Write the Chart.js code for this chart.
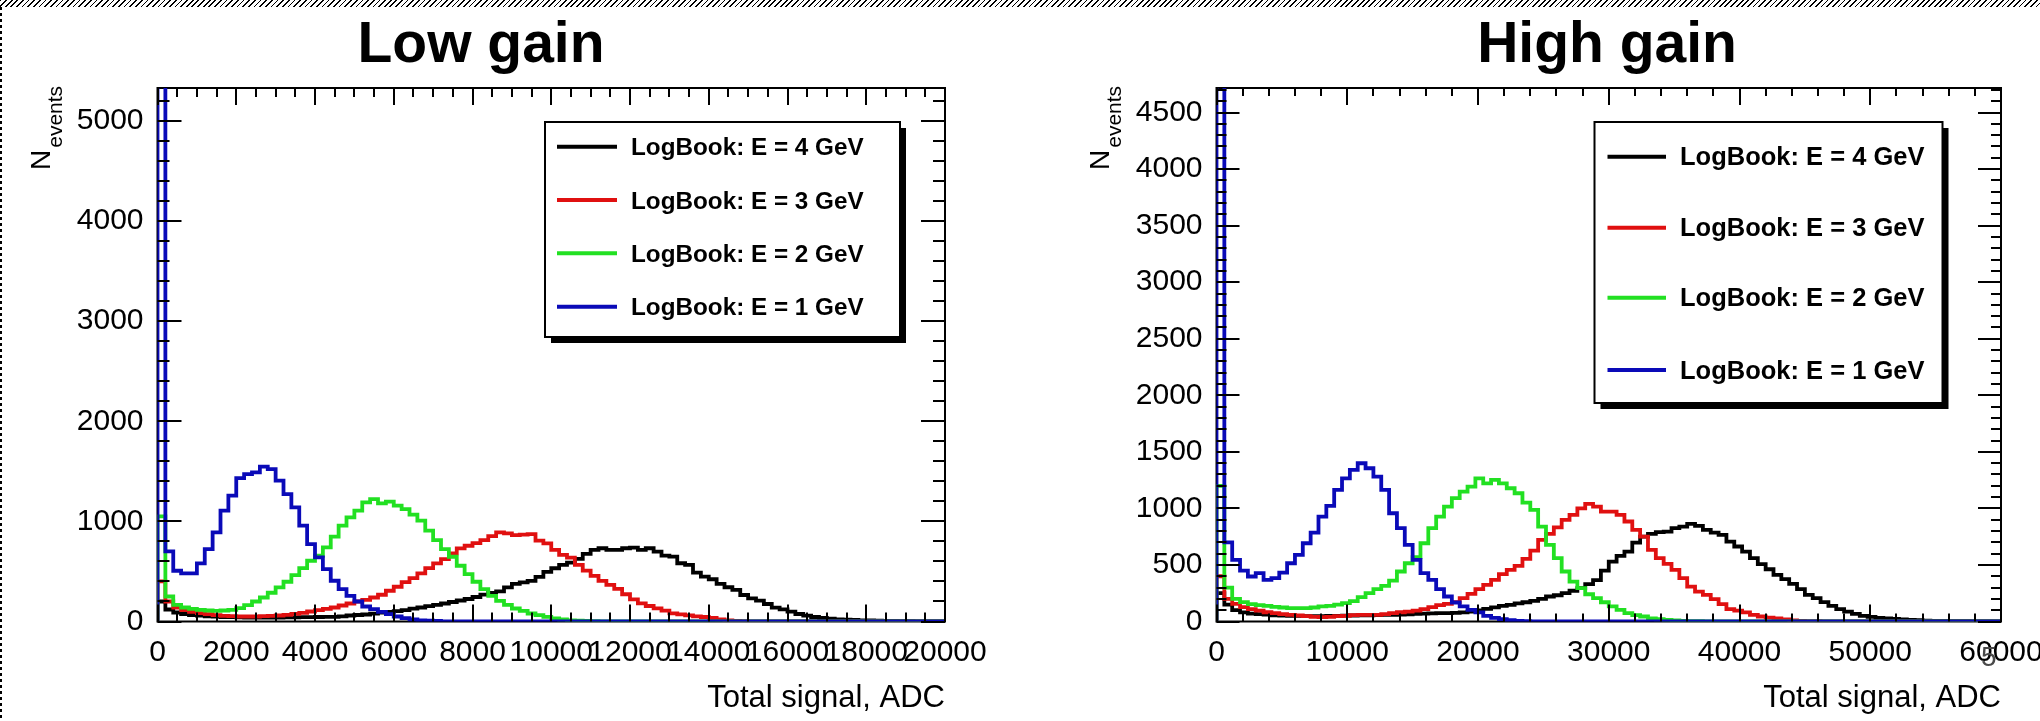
<!DOCTYPE html>
<html><head><meta charset="utf-8">
<script src="https://cdn.jsdelivr.net/npm/chart.js@4.4.1/dist/chart.umd.min.js"></script>
<style>
html,body{margin:0;padding:0;background:#fff;overflow:hidden;width:2040px;height:721px;}
#wrap{position:relative;width:2040px;height:721px;overflow:hidden;background:#fff;}
#c1{position:absolute;left:0;top:0;}
#c2{position:absolute;left:1020px;top:0;}
#hatch{position:absolute;left:0;top:0;width:2040px;height:7px;background:repeating-linear-gradient(135deg,#000 0 1.2px,#fff 1.2px 4px);z-index:5;}
#dash{position:absolute;left:0;top:7px;width:2px;height:714px;background:repeating-linear-gradient(180deg,#000 0 3px,#fff 3px 6px);z-index:5;}
#pg{position:absolute;left:1981px;top:641px;font:28px 'Liberation Sans',Arial,sans-serif;color:#4a4a4a;z-index:5;}
</style></head>
<body><div id="wrap">
<canvas id="c1" width="1020" height="721"></canvas>
<canvas id="c2" width="1100" height="721"></canvas>
<div id="hatch"></div><div id="dash"></div><div id="pg">5</div>
</div>
<script>
// ---------------- DATA ----------------
const seriesLabels = ['LogBook: E = 4 GeV','LogBook: E = 3 GeV','LogBook: E = 2 GeV','LogBook: E = 1 GeV'];
const seriesColors = ['#000000','#e01010','#22e022','#0a0ab8'];

// Low gain: 100 bins of 200 ADC (0..20000)
const lowBinWidth = 200;
const lowE4 = [200,120,90,75,65,58,52,48,45,43,
 42,40,40,40,40,40,41,42,43,44,
 45,46,47,52,60,65,70,78,88,97,
 103,113,128,140,153,167,180,195,210,225,
 245,268,285,300,340,375,390,405,445,495,
 532,565,588,625,675,715,732,715,715,732,
 738,715,732,698,658,648,582,565,488,448,
 422,375,342,315,265,232,208,175,138,122,
 98,75,58,45,35,28,22,18,15,12,
 10,8,6,5,4,3,2,2,1,1];
const lowE3 = [400,200,140,113,97,83,73,63,57,53,
 50,50,50,53,57,60,67,77,87,100,
 113,127,140,160,180,200,217,240,267,307,
 347,393,433,480,533,580,623,680,730,757,
 783,813,853,890,880,863,867,873,807,780,
 715,665,638,565,508,455,405,365,325,272,
 222,182,155,132,108,82,72,62,52,45,
 35,22,12,6,3,0,0,0,0,0,
 0,0,0,0,0,0,0,0,0,0,
 0,0,0,0,0,0,0,0,0,0];
const lowE2 = [1050,250,167,140,127,117,110,107,110,117,
 133,163,200,240,287,340,397,463,533,607,
 657,740,847,957,1040,1107,1190,1223,1180,1197,
 1157,1123,1067,1007,907,813,723,647,557,473,
 397,323,257,207,167,130,107,80,63,47,
 30,20,12,8,5,3,0,0,0,0,
 0,0,0,0,0,0,0,0,0,0,
 0,0,0,0,0,0,0,0,0,0,
 0,0,0,0,0,0,0,0,0,0,
 0,0,0,0,0,0,0,0,0,0];
const lowE1 = [6000,700,507,480,480,580,723,890,1107,1257,
 1433,1473,1490,1547,1523,1407,1273,1140,957,773,
 640,523,407,323,257,200,150,123,97,73,
 50,33,20,12,8,5,0,0,0,0,
 0,0,0,0,0,0,0,0,0,0,
 0,0,0,0,0,0,0,0,0,0,
 0,0,0,0,0,0,0,0,0,0,
 0,0,0,0,0,0,0,0,0,0,
 0,0,0,0,0,0,0,0,0,0,
 0,0,0,0,0,0,0,0,0,0];
const lowXTicks = [0,2000,4000,6000,8000,10000,12000,14000,16000,18000,20000];
const lowYTicks = [0,1000,2000,3000,4000,5000];

// High gain: 100 bins of 600 ADC (0..60000)
const highBinWidth = 600;
const highE4 = [250,150,100,80,70,65,60,55,52,50,
 50,48,48,48,50,50,52,53,55,55,
 57,58,59,62,64,68,70,72,74,74,
 77,80,88,98,112,125,138,147,160,170,
 182,200,221,232,250,272,295,330,365,450,
 530,580,618,698,751,775,790,795,825,839,
 863,845,810,786,766,707,663,618,560,507,
 462,412,374,333,286,236,206,171,138,109,
 88,68,50,41,32,27,22,18,14,11,
 8,6,5,4,3,2,1,1,0,0];
const highE3 = [400,200,156,127,109,97,82,74,65,59,
 53,47,41,38,41,47,50,56,59,59,
 59,65,74,82,88,97,109,127,144,156,
 171,206,244,286,324,368,418,456,492,554,
 627,722,775,833,898,942,1001,1040,1016,972,
 972,942,884,810,751,633,560,509,456,383,
 309,265,236,197,153,109,97,80,59,44,
 35,27,18,10,6,3,2,0,0,0,
 0,0,0,0,0,0,0,0,0,0,
 0,0,0,0,0,0,0,0,0,0];
const highE2 = [1200,300,200,171,153,144,138,130,124,118,
 118,118,124,133,138,150,162,180,215,250,
 286,315,362,442,515,568,692,825,928,1016,
 1090,1149,1193,1266,1222,1252,1222,1178,1134,1051,
 987,839,677,560,442,353,295,241,206,170,
 133,103,74,56,44,28,20,14,9,6,
 4,2,1,0,0,0,0,0,0,0,
 0,0,0,0,0,0,0,0,0,0,
 0,0,0,0,0,0,0,0,0,0,
 0,0,0,0,0,0,0,0,0,0];
const highE1 = [6000,700,545,450,398,427,368,383,433,515,
 589,692,786,928,1022,1163,1266,1340,1399,1355,
 1281,1163,957,825,677,545,427,368,286,221,
 168,133,103,80,50,32,21,12,6,3,
 0,0,0,0,0,0,0,0,0,0,
 0,0,0,0,0,0,0,0,0,0,
 0,0,0,0,0,0,0,0,0,0,
 0,0,0,0,0,0,0,0,0,0,
 0,0,0,0,0,0,0,0,0,0,
 0,0,0,0,0,0,0,0,0,0];
const highXTicks = [0,10000,20000,30000,40000,50000,60000];
const highYTicks = [0,500,1000,1500,2000,2500,3000,3500,4000,4500];

// ---------------- DRAWING ----------------
const FONT = "'Liberation Sans', Arial, Helvetica, sans-serif";

function histPoints(vals, bw){
  const pts = [{x:0, y:0}];
  vals.forEach((v,i)=>pts.push({x:i*bw, y:v}));
  pts.push({x:vals.length*bw, y:vals[vals.length-1]});
  return pts;
}
function sText(ctx, txt, x, y, font, align, sx, color){
  ctx.save();
  ctx.font = font; ctx.fillStyle = color || '#000'; ctx.textBaseline = 'alphabetic'; ctx.textAlign = 'left';
  const w = ctx.measureText(txt).width * sx;
  const x0 = align === 'center' ? x - w/2 : (align === 'right' ? x - w : x);
  ctx.translate(x0, y); ctx.scale(sx, 1); ctx.fillText(txt, 0, 0);
  ctx.restore();
}

const rootFrame = {
  id: 'rootFrame',
  beforeDatasetsDraw(chart){
    const {ctx, chartArea:a} = chart;
    ctx.save(); ctx.strokeStyle = '#000'; ctx.lineWidth = 2;
    ctx.strokeRect(a.left, a.top, a.right - a.left, a.bottom - a.top);
    ctx.restore();
  },
  afterDatasetsDraw(chart, args, o){
    const {ctx, chartArea:a} = chart;
    const xs = chart.scales.x, ys = chart.scales.y;
    ctx.save(); ctx.strokeStyle = '#000'; ctx.lineWidth = 2;
    ctx.beginPath();
    const nx = Math.round((xs.max - xs.min) / o.xMinor);
    for (let i = 0; i <= nx; i++){
      const v = xs.min + i*o.xMinor;
      const px = Math.round(xs.getPixelForValue(v));
      const major = Math.abs(v/o.xMajor - Math.round(v/o.xMajor)) < 1e-6;
      const L = major ? o.xMajLen : o.xMinLen;
      ctx.moveTo(px, a.bottom); ctx.lineTo(px, a.bottom - L);
      ctx.moveTo(px, a.top); ctx.lineTo(px, a.top + L);
    }
    const ny = Math.floor(ys.max / o.yMinor);
    for (let i = 0; i <= ny; i++){
      const v = i*o.yMinor;
      const py = Math.round(ys.getPixelForValue(v));
      const major = Math.abs(v/o.yMajor - Math.round(v/o.yMajor)) < 1e-6;
      const L = major ? o.yMajLen : o.yMinLen;
      ctx.moveTo(a.left, py); ctx.lineTo(a.left + L, py);
      ctx.moveTo(a.right, py); ctx.lineTo(a.right - L, py);
    }
    ctx.stroke();
    ctx.restore();
  }
};

const rootText = {
  id: 'rootText',
  afterDraw(chart, args, o){
    const ctx = chart.ctx;
    sText(ctx, o.title, o.titleX, o.titleY, 'bold 57px ' + FONT, 'center', 1.0);
    sText(ctx, o.xTitle, chart.chartArea.right, 707, '31px ' + FONT, 'right', 1.0);
    ctx.save();
    ctx.translate(o.nX, 170); ctx.rotate(-Math.PI/2);
    ctx.fillStyle = '#000'; ctx.textBaseline = 'alphabetic'; ctx.textAlign = 'left';
    ctx.font = '28px ' + FONT; ctx.fillText('N', 0, 0);
    const nw = ctx.measureText('N').width;
    ctx.font = '21px ' + FONT; ctx.fillText('events', nw + 2, 12);
    ctx.restore();
    const L = o.legend;
    ctx.save();
    ctx.fillStyle = '#000';
    ctx.fillRect(L.x + L.sh, L.y + L.sh, L.w, L.h);
    ctx.fillStyle = '#fff';
    ctx.fillRect(L.x, L.y, L.w, L.h);
    ctx.strokeStyle = '#000'; ctx.lineWidth = 2;
    ctx.strokeRect(L.x, L.y, L.w, L.h);
    chart.data.datasets.forEach((ds, i) => {
      const ry = L.rows[i];
      ctx.strokeStyle = ds.borderColor; ctx.lineWidth = 4;
      ctx.beginPath(); ctx.moveTo(L.lx1, ry); ctx.lineTo(L.lx2, ry); ctx.stroke();
      sText(ctx, ds.label, L.tx, ry + 8.5, 'bold ' + L.fs + 'px ' + FONT, 'left', 1.02);
    });
    ctx.restore();
  }
};

function makeChart(id, cfg){
  const series = [cfg.e4, cfg.e3, cfg.e2, cfg.e1];
  const datasets = series.map((vals, i) => ({
    label: seriesLabels[i],
    data: histPoints(vals, cfg.bw),
    borderColor: seriesColors[i],
    backgroundColor: seriesColors[i],
    borderWidth: 3.8,
    pointRadius: 0,
    stepped: 'before',
    fill: false,
    tension: 0,
    order: 3 - i
  }));
  return new Chart(document.getElementById(id), {
    type: 'line',
    data: { datasets },
    plugins: [rootFrame, rootText],
    options: {
      responsive: false, animation: false, devicePixelRatio: 1, events: [],
      layout: { padding: { left: 0, right: cfg.padRight, top: 88, bottom: 0 } },
      plugins: {
        legend: { display: false }, tooltip: { enabled: false }, title: { display: false },
        rootFrame: cfg.frame,
        rootText: cfg.text
      },
      scales: {
        x: {
          type: 'linear', position: 'bottom', min: 0, max: cfg.xMax,
          grid: { display: false }, border: { display: false },
          afterBuildTicks: s => { s.ticks = cfg.xTicks.map(v => ({ value: v })); },
          ticks: { autoSkip: false, maxRotation: 0, minRotation: 0, padding: 5, color: '#000',
                   font: { family: FONT, size: 30 }, callback: v => String(v) },
          afterFit: s => { s.height = 99.5; s.paddingLeft = 0; s.paddingRight = 0; s.paddingTop = 0; s.paddingBottom = 0; }
        },
        y: {
          type: 'linear', position: 'left', min: 0, max: cfg.yMax,
          grid: { display: false }, border: { display: false },
          afterBuildTicks: s => { s.ticks = cfg.yTicks.map(v => ({ value: v })); },
          ticks: { autoSkip: false, padding: 6, color: '#000',
                   font: { family: FONT, size: 30 }, callback: v => String(v) },
          afterFit: s => { s.width = cfg.yWidth; s.paddingLeft = 0; s.paddingRight = 0; s.paddingTop = 0; s.paddingBottom = 0; }
        }
      }
    }
  });
}

makeChart('c1', {
  e4: lowE4, e3: lowE3, e2: lowE2, e1: lowE1, bw: lowBinWidth,
  xMax: 20000, yMax: 5330, xTicks: lowXTicks, yTicks: lowYTicks,
  padRight: 75, yWidth: 157.5,
  frame: { xMinor: 500, xMajor: 2000, xMajLen: 17, xMinLen: 9, yMinor: 200, yMajor: 1000, yMajLen: 24, yMinLen: 12 },
  text: { title: 'Low gain', titleX: 481, titleY: 61.5, xTitle: 'Total signal, ADC', nX: 50,
          legend: { x: 545, y: 122, w: 355, h: 215, sh: 6, rows: [146.7, 200, 253.3, 306.7], lx1: 557, lx2: 617, tx: 631, fs: 23.8 } }
});
makeChart('c2', {
  e4: highE4, e3: highE3, e2: highE2, e1: highE1, bw: highBinWidth,
  xMax: 60000, yMax: 4717, xTicks: highXTicks, yTicks: highYTicks,
  padRight: 119, yWidth: 196.5,
  frame: { xMinor: 2000, xMajor: 10000, xMajLen: 17, xMinLen: 8, yMinor: 100, yMajor: 500, yMajLen: 23, yMinLen: 10 },
  text: { title: 'High gain', titleX: 587, titleY: 61.5, xTitle: 'Total signal, ADC', nX: 89,
          legend: { x: 574.5, y: 122, w: 348, h: 281, sh: 6, rows: [156.7, 227.7, 297.7, 370], lx1: 587.5, lx2: 646, tx: 660, fs: 25 } }
});
</script>
</body></html>
